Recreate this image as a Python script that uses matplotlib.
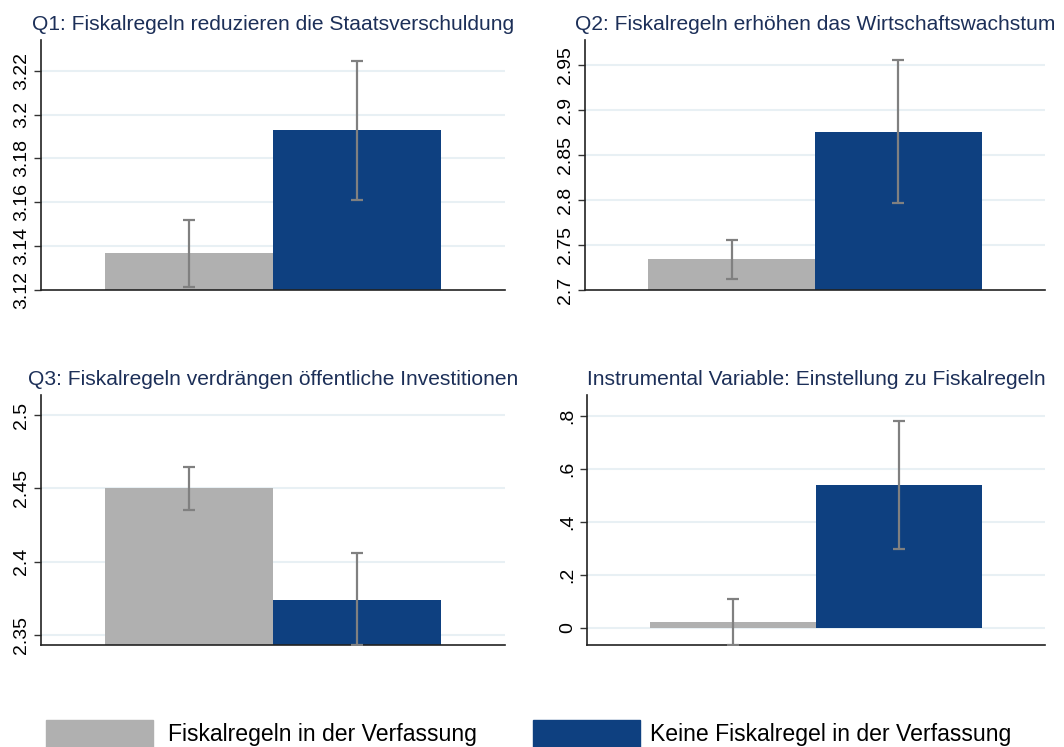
import numpy as np
import matplotlib.pyplot as plt
from matplotlib.patches import Rectangle

plt.rcParams['font.family'] = ['Liberation Sans', 'DejaVu Sans']

# Daten
titel = [
    "Q1: Fiskalregeln reduzieren die Staatsverschuldung",
    "Q2: Fiskalregeln erhöhen das Wirtschaftswachstum",
    "Q3: Fiskalregeln verdrängen öffentliche Investitionen",
    "Instrumental Variable: Einstellung zu Fiskalregeln",
]
gruppen = ["Fiskalregeln in der Verfassung", "Keine Fiskalregel in der Verfassung"]
mittelwerte = [[3.137, 3.193], [2.734, 2.876], [2.450, 2.374], [0.021, 0.540]]
ki_unten = [[3.1215, 3.161], [2.712, 2.7965], [2.4355, 2.343], [-0.065, 0.299]]
ki_oben = [[3.152, 3.2245], [2.756, 2.9555], [2.4646, 2.4056], [0.108, 0.780]]
y_bereich = [(3.12, 3.234), (2.70, 2.978), (2.3432, 2.5136), (-0.064, 0.878)]
y_ticks = [
    [3.12, 3.14, 3.16, 3.18, 3.20, 3.22],
    [2.70, 2.75, 2.80, 2.85, 2.90, 2.95],
    [2.35, 2.40, 2.45, 2.50],
    [0.0, 0.2, 0.4, 0.6, 0.8],
]
y_ticklabels = [
    ["3.12", "3.14", "3.16", "3.18", "3.2", "3.22"],
    ["2.7", "2.75", "2.8", "2.85", "2.9", "2.95"],
    ["2.35", "2.4", "2.45", "2.5"],
    ["0", ".2", ".4", ".6", ".8"],
]

farben = ['#b0b0b0', '#0e4080']
titelfarbe = '#1c2f58'
gitterfarbe = '#e8f0f4'
fehlerfarbe = '#808080'

W, H = 1064, 747
fig = plt.figure(figsize=(W / 100, H / 100), dpi=100)

# Position der Panels in Pixeln: links, oben, breite, hoehe
panels = [(41, 40, 464, 250), (585, 40, 460, 250),
          (41, 395, 464, 250), (587, 395, 458, 250)]

x = np.arange(2)
for i, (l, o, b, h) in enumerate(panels):
    ax = fig.add_axes([l / W, (H - o - h) / H, b / W, h / H])
    lo, hi = y_bereich[i]
    basis = lo if lo > 0 else 0
    werte = np.array(mittelwerte[i])
    ax.bar(x, werte - basis, bottom=basis, width=1.0, color=farben, zorder=2)
    fehler = [werte - np.array(ki_unten[i]), np.array(ki_oben[i]) - werte]
    ax.errorbar(x, werte, yerr=fehler, fmt='none', ecolor=fehlerfarbe,
                elinewidth=1.6, capsize=4, capthick=1.6, zorder=3)

    ax.set_xlim(-0.88, 1.88)
    ax.set_ylim(lo, hi)
    ax.set_yticks(y_ticks[i])
    ax.set_yticklabels(y_ticklabels[i], rotation=90, va='center', fontsize=14)
    for t in y_ticks[i]:
        if t > lo + 1e-9:
            ax.axhline(t, color=gitterfarbe, lw=1.5, zorder=1)
    ax.set_xticks([])
    ax.tick_params(axis='y', length=5, width=1, color='#333333', pad=3)
    for s in ['top', 'right']:
        ax.spines[s].set_visible(False)
    for s in ['left', 'bottom']:
        ax.spines[s].set_color('#222222')
        ax.spines[s].set_linewidth(1.2)
    ax.set_title(titel[i], fontsize=15.1, color=titelfarbe, pad=7)

# Legende unten
legende_x = [(46, 168), (533, 650)]
for (px, tx), farbe, name in zip(legende_x, farben, gruppen):
    fig.add_artist(Rectangle((px / W, 0), 107 / W, 27 / H,
                             transform=fig.transFigure, color=farbe))
    fig.text(tx / W, (H - 735) / H, name, fontsize=16.6, va='center', ha='left')

fig.savefig('out.png', dpi=100, facecolor='white')
